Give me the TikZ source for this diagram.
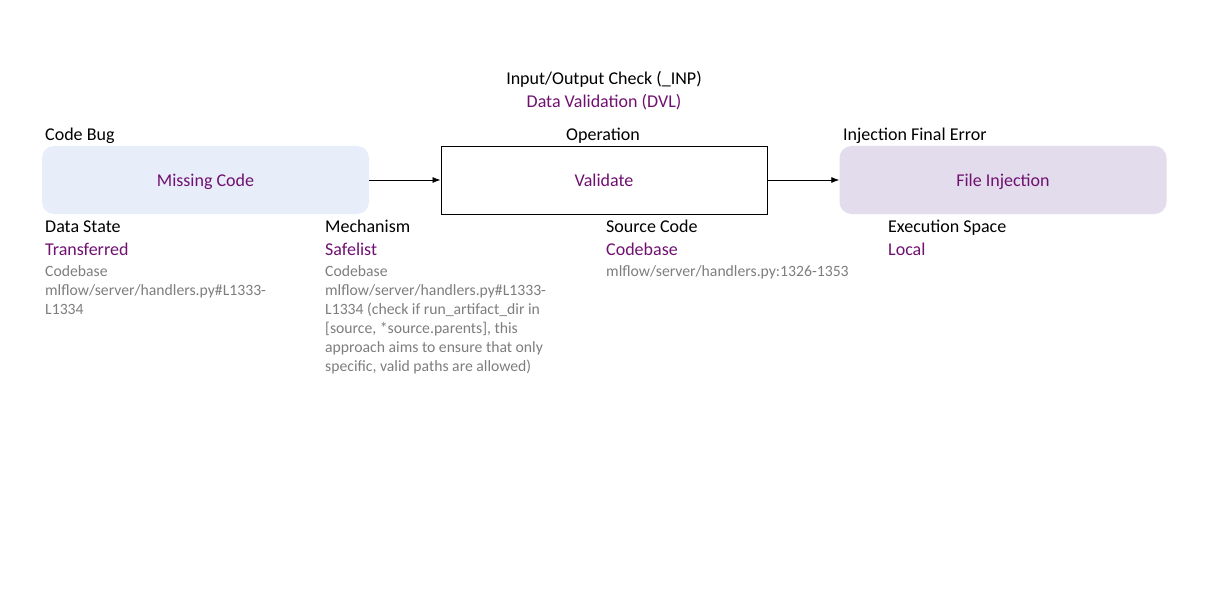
\documentclass[tikz,border=0pt]{standalone}
\usepackage{fontspec}
\setmainfont{Carlito}
\usetikzlibrary{arrows.meta}
\definecolor{purp}{RGB}{112,16,112}
\definecolor{greytxt}{RGB}{125,125,125}
\definecolor{bluefill}{RGB}{232,237,250}
\definecolor{lavfill}{RGB}{226,220,236}
\tikzset{
  big/.style={font=\fontsize{18}{23}\selectfont, inner sep=0pt},
  head/.style={big, text=black, anchor=base west},
  val/.style={big, text=purp, anchor=base west},
  note/.style={font=\fontsize{15.7}{19}\selectfont, text=greytxt, inner sep=0pt, anchor=base west, align=left},
  roundbox/.style={rounded corners=12pt, minimum width=327pt, minimum height=68pt, inner sep=0pt, draw=none},
  plainbox/.style={draw=black, line width=0.9pt, minimum width=326pt, minimum height=68pt, inner sep=0pt, fill=white},
  boxtext/.style={font=\fontsize{18}{23}\selectfont, text=purp, text height=14pt, text depth=2pt},
  conn/.style={-{Latex[length=8pt,width=6pt]}, line width=0.8pt}
}
\begin{document}
\begin{tikzpicture}[x=1pt,y=-1pt]
\useasboundingbox (0,0) rectangle (1207,591);
% boxes
\node[roundbox, fill=bluefill, boxtext] (mc) at (205.5,180) {Missing Code};
\node[plainbox, boxtext] (val) at (604,180) {Validate};
\node[roundbox, fill=lavfill, boxtext] (fi) at (1003,180) {File Injection};
\draw[conn] (mc.east) -- (val.west);
\draw[conn] (val.east) -- (fi.west);
% title
\node[big, anchor=base] (t1) at (604,85) {Input/Output Check (\_INP)};
\node[big, text=purp, anchor=base] (t2) at (604,108) {Data Validation (DVL)};
% headings above boxes
\node[head] (cb) at (45,140) {Code Bug};
\node[big, anchor=base] (op) at (603,140) {Operation};
\node[head] (ife) at (843,140) {Injection Final Error};
% data state
\node[head] (ds) at (45,232.5) {Data State};
\node[val] (tr) at (45,255.5) {Transferred};
\node[note] (dsn) at (45,314) {Codebase\\mlflow/server/handlers.py\#L1333-\\L1334};
% mechanism
\node[head] (me) at (325,232.5) {Mechanism};
\node[val] (sf) at (325,255.5) {Safelist};
\node[note] (men) at (325,371) {Codebase\\mlflow/server/handlers.py\#L1333-\\L1334 (check if run\_artifact\_dir in\\{}[source, *source.parents], this\\approach aims to ensure that only\\specific, valid paths are allowed)};
% source code
\node[head] (sc) at (606,232.5) {Source Code};
\node[val] (scv) at (606,255.5) {Codebase};
\node[note] (scn) at (606,276) {mlflow/server/handlers.py:1326-1353};
% execution space
\node[head] (es) at (888,232.5) {Execution Space};
\node[val] (lo) at (888,255.5) {Local};
\end{tikzpicture}
\end{document}
